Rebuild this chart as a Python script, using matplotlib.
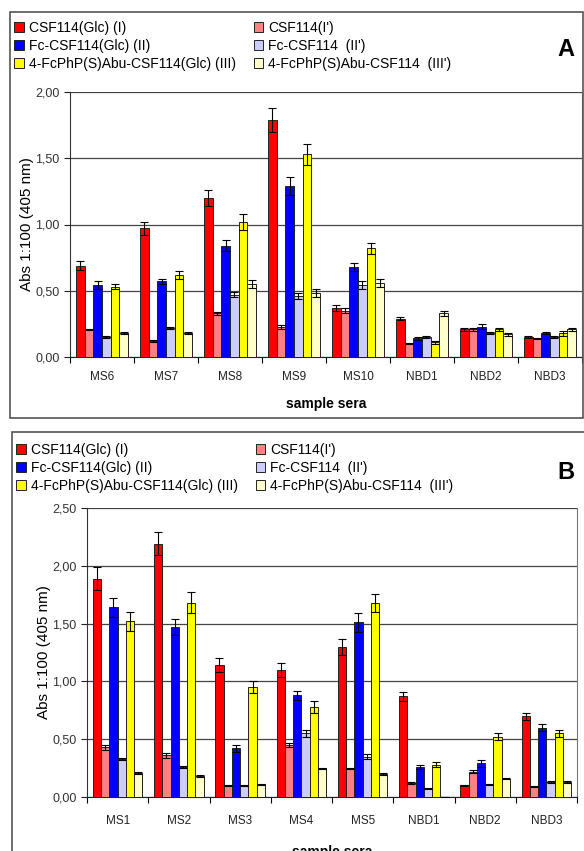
import numpy as np
import matplotlib.pyplot as plt
from matplotlib.patches import Rectangle, Patch
from matplotlib.ticker import FuncFormatter

plt.rcParams['font.family'] = ['Liberation Sans', 'DejaVu Sans']

series = ['CSF114(Glc) (I)', 'Fc-CSF114(Glc) (II)', '4-FcPhP(S)Abu-CSF114(Glc) (III)',
          "CSF114(I')", "Fc-CSF114  (II')", "4-FcPhP(S)Abu-CSF114  (III')"]
colors = ['#ff0000', '#ff8080', '#0000ff', '#ccccff', '#ffff00', '#ffffcc']

# panel A
groups_a = ['MS6', 'MS7', 'MS8', 'MS9', 'MS10', 'NBD1', 'NBD2', 'NBD3']
# order of bars in group: I, I', II, II', III, III'
vals_a = [
    [0.69, 0.97, 1.20, 1.79, 0.37, 0.29, 0.21, 0.15],  # I
    [0.21, 0.12, 0.33, 0.23, 0.35, 0.10, 0.21, 0.14],  # I'
    [0.54, 0.57, 0.84, 1.29, 0.68, 0.14, 0.23, 0.18],  # II
    [0.15, 0.22, 0.47, 0.46, 0.54, 0.15, 0.18, 0.15],  # II'
    [0.53, 0.62, 1.02, 1.53, 0.82, 0.11, 0.21, 0.18],  # III
    [0.18, 0.18, 0.55, 0.48, 0.56, 0.33, 0.17, 0.21],  # III'
]
err_a = [
    [0.035, 0.05, 0.06, 0.09, 0.02, 0.01, 0.01, 0.01],
    [0.005, 0.01, 0.01, 0.015, 0.02, 0.005, 0.01, 0.005],
    [0.03, 0.02, 0.04, 0.07, 0.03, 0.01, 0.02, 0.01],
    [0.01, 0.01, 0.02, 0.02, 0.03, 0.01, 0.01, 0.01],
    [0.02, 0.03, 0.06, 0.08, 0.04, 0.01, 0.01, 0.02],
    [0.005, 0.01, 0.03, 0.03, 0.03, 0.02, 0.01, 0.01],
]

# panel B
groups_b = ['MS1', 'MS2', 'MS3', 'MS4', 'MS5', 'NBD1', 'NBD2', 'NBD3']
vals_b = [
    [1.89, 2.19, 1.14, 1.10, 1.30, 0.87, 0.10, 0.70],
    [0.43, 0.36, 0.10, 0.45, 0.25, 0.12, 0.22, 0.09],
    [1.64, 1.47, 0.42, 0.88, 1.51, 0.26, 0.29, 0.60],
    [0.33, 0.26, 0.10, 0.55, 0.35, 0.07, 0.11, 0.13],
    [1.52, 1.68, 0.95, 0.78, 1.68, 0.28, 0.52, 0.55],
    [0.21, 0.18, 0.11, 0.25, 0.20, 0.00, 0.16, 0.13],
]
err_b = [
    [0.10, 0.10, 0.06, 0.06, 0.07, 0.04, 0.005, 0.03],
    [0.02, 0.02, 0.005, 0.02, 0.005, 0.01, 0.015, 0.005],
    [0.08, 0.07, 0.03, 0.04, 0.08, 0.02, 0.03, 0.03],
    [0.01, 0.01, 0.005, 0.03, 0.02, 0.005, 0.005, 0.01],
    [0.08, 0.09, 0.05, 0.05, 0.08, 0.02, 0.03, 0.03],
    [0.01, 0.01, 0.005, 0.005, 0.01, 0.0, 0.005, 0.01],
]

W, H = 584, 851
fig = plt.figure(figsize=(W / 100, H / 100), dpi=100)


def fx(px):
    return px / W


def fy(py):
    return 1 - py / H


def panel(box, axpos, groups, vals, errs, ymax, letter, leg_top, xpad):
    x0, y0, x1, y1 = box
    fig.patches.append(Rectangle((fx(x0), fy(y1)), fx(x1 - x0), (y1 - y0) / H,
                                 transform=fig.transFigure, fill=False,
                                 edgecolor='#555555', lw=1.2))
    l, t, r, b = axpos
    ax = fig.add_axes([fx(l), fy(b), fx(r - l), (b - t) / H])
    n = len(vals)
    bw = 0.135
    x = np.arange(len(groups))
    for i in range(n):
        pos = x + 0.5 + (i - (n - 1) / 2) * bw
        ax.bar(pos, vals[i], bw, color=colors[i], edgecolor='#222222', lw=0.7,
               yerr=errs[i], capsize=3, error_kw=dict(ecolor='black', elinewidth=0.8, capthick=0.8),
               zorder=3)
    ax.set_xlim(0, len(groups))
    ax.set_ylim(0, ymax)
    ax.set_yticks(np.arange(0, ymax + 0.01, 0.5))
    ax.yaxis.set_major_formatter(FuncFormatter(lambda v, p: f'{v:.2f}'.replace('.', ',')))
    ax.yaxis.grid(True, color='#444444', lw=0.9)
    ax.set_axisbelow(True)
    ax.set_xticks(np.arange(0, len(groups) + 1))
    ax.set_xticklabels([])
    ax.set_xticks(x + 0.5, minor=True)
    ax.set_xticklabels(groups, minor=True, fontsize=8.5, color='#222222')
    ax.tick_params(axis='x', which='minor', length=0, pad=xpad)
    ax.tick_params(axis='x', which='major', length=4, direction='out')
    ax.tick_params(axis='y', length=4, labelsize=9, colors='#222222', labelcolor='#333333')
    ax.spines['top'].set_visible(False)
    ax.spines['right'].set_color('#777777')
    ax.spines['left'].set_color('#333333')
    ax.spines['bottom'].set_color('#222222')
    ax.set_xlabel('sample sera', fontsize=10, fontweight='bold', labelpad=xpad)
    ax.set_ylabel('Abs 1:100 (405 nm)', fontsize=11, labelpad=1)

    order = [0, 2, 4, 1, 3, 5]
    handles = [Patch(facecolor=colors[i], edgecolor='#222222', lw=0.7) for i in order]
    fig.legend(handles, series, loc='upper left', ncol=2,
               bbox_to_anchor=(fx(x0 + 4), fy(leg_top)), frameon=False, fontsize=10,
               handlelength=0.7, handleheight=0.7, handletextpad=0.35,
               columnspacing=1.3, labelspacing=0.28, borderaxespad=0.0, borderpad=0.0)
    fig.text(fx(566), fy(leg_top + 29), letter, fontsize=17, fontweight='bold',
             ha='center', va='center')
    return ax


panel((10, 12, 583, 418), (70, 92, 582, 357), groups_a, vals_a, err_a, 2.0, 'A', 21, 10)
panel((12, 432, 600, 870), (87, 508, 577, 797), groups_b, vals_b, err_b, 2.5, 'B', 443, 13)

fig.savefig('out.png', dpi=100)
